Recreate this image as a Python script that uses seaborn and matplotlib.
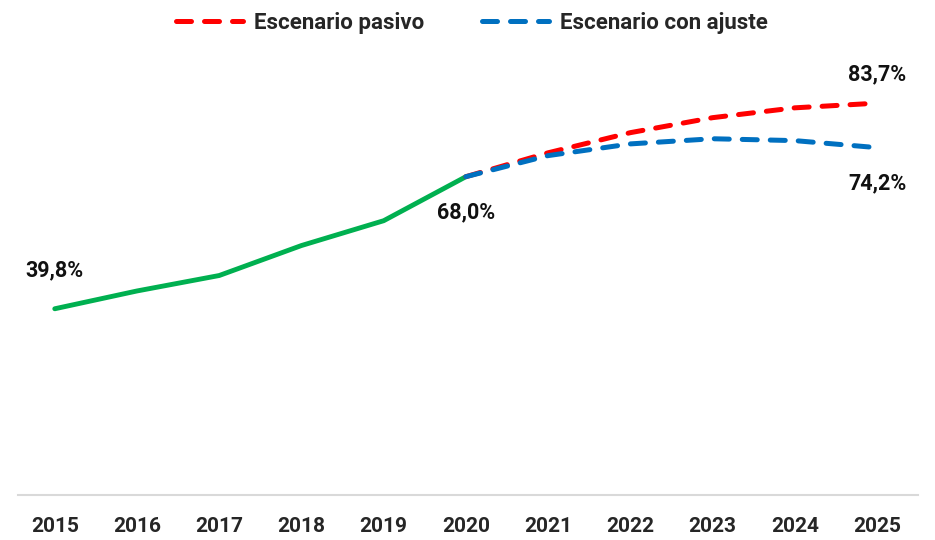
import pandas as pd
import seaborn as sns
import matplotlib.pyplot as plt

# data
years_hist = [2015, 2016, 2017, 2018, 2019, 2020]
hist = [39.8, 43.6, 46.9, 53.3, 58.6, 68.0]
years_proj = [2020, 2021, 2022, 2023, 2024, 2025]
pasivo = [68.0, 73.1, 77.4, 80.6, 82.7, 83.7]
ajuste = [68.0, 72.5, 75.0, 76.1, 75.7, 74.2]
year_ticks = list(range(2015, 2026))

sns.set_theme(style='white')
plt.rcParams['font.family'] = ['Roboto', 'DejaVu Sans']

df_hist = pd.DataFrame({'year': years_hist, 'value': hist})
df_proj = pd.DataFrame({
    'year': years_proj * 2,
    'value': pasivo + ajuste,
    'serie': ['Escenario pasivo'] * 6 + ['Escenario con ajuste'] * 6,
})

fig = plt.figure(figsize=(9.35, 5.4), dpi=100)
ax = fig.add_axes([0.019, 0.083, 0.963, 0.824])

sns.lineplot(data=df_hist, x='year', y='value', color='#00B050', linewidth=3.5,
             ax=ax, legend=False, solid_capstyle='round')

colors = {'Escenario pasivo': '#FF0000', 'Escenario con ajuste': '#0070C0'}
handles = []
for name in ['Escenario pasivo', 'Escenario con ajuste']:
    sub = df_proj[df_proj['serie'] == name]
    sns.lineplot(data=sub, x='year', y='value', color=colors[name], linewidth=3.6,
                 ax=ax, legend=False, label=None)
    line = ax.lines[-1]
    line.set_dashes((3.0, 2.6))
    line.set_dash_capstyle('round')
    line.set_label(name)
    handles.append(line)

ax.set_xlim(2014.55, 2025.5)
ax.set_ylim(0, 95)
ax.set_xticks(year_ticks)
ax.set_xticklabels([str(y) for y in year_ticks], fontsize=15, fontweight='bold')
ax.set_yticks([])
ax.set_xlabel('')
ax.set_ylabel('')
ax.tick_params(axis='x', length=0, pad=16)

for s in ['top', 'left', 'right']:
    ax.spines[s].set_visible(False)
ax.spines['bottom'].set_color('#D9D9D9')
ax.spines['bottom'].set_linewidth(1.5)

lbl = dict(fontsize=15.5, fontweight='bold', ha='center', va='center', color='#111111')
ax.annotate('39,8%', (years_hist[0], hist[0]), xytext=(0, 28), textcoords='offset points', **lbl)
ax.annotate('68,0%', (years_hist[-1], hist[-1]), xytext=(0, -26), textcoords='offset points', **lbl)
ax.annotate('83,7%', (years_proj[-1], pasivo[-1]), xytext=(0, 21), textcoords='offset points', **lbl)
ax.annotate('74,2%', (years_proj[-1], ajuste[-1]), xytext=(0, -26), textcoords='offset points', **lbl)

leg = fig.legend(handles=handles, loc='upper center', bbox_to_anchor=(0.505, 1.015), ncol=2,
                 frameon=False, prop={'size': 16, 'weight': 'bold'}, handlelength=3.0,
                 columnspacing=2.6, handletextpad=0.5)

fig.savefig('out.png', dpi=100)
